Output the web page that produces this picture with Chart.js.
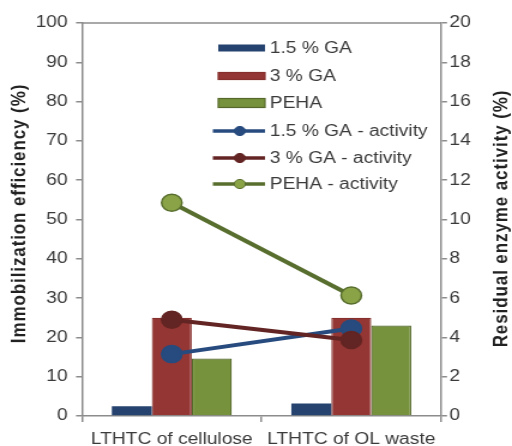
<!DOCTYPE html>
<html>
<head>
<meta charset="utf-8">
<script src="https://cdn.jsdelivr.net/npm/chart.js@4.4.0/dist/chart.umd.min.js"></script>
<style>
  html, body { margin: 0; padding: 0; background: #fff; overflow: hidden; }
  /* the original figure is stretched sideways, so the canvas is too */
  #wrap { width: 427px; height: 446px; transform: scaleX(1.1991); transform-origin: 0 0; }
</style>
</head>
<body>
<div id="wrap"><canvas id="chart"></canvas></div>
<script>
const categories = ['LTHTC of cellulose', 'LTHTC of OL waste'];
const ga15Efficiency = [2.5, 3.2];
const ga3Efficiency = [25, 25];
const pehaEfficiency = [14.6, 23];
const ga15Activity = [3.15, 4.45];
const ga3Activity = [4.9, 3.87];
const pehaActivity = [10.85, 6.13];
const leftTicks = [0, 10, 20, 30, 40, 50, 60, 70, 80, 90, 100];
const rightTicks = [0, 2, 4, 6, 8, 10, 12, 14, 16, 18, 20];

const axisGray = '#8c8c8c';
const textColor = '#3a3a3a';
const fontFamily = '"Liberation Sans", Arial, sans-serif';

const drawTitle = (c, text, x, y) => {
    c.save();
    c.translate(x, y);
    c.rotate(-Math.PI / 2);
    c.font = 'bold 17px ' + fontFamily;
    if ('letterSpacing' in c) c.letterSpacing = '0.9px';
    c.fillStyle = '#222';
    c.textAlign = 'center';
    c.textBaseline = 'middle';
    c.fillText(text, 0, 0);
    c.restore();
};

// legend drawn inside the plot, like the Excel original
const insideLegend = {
    id: 'insideLegend',
    afterDraw(chart) {
        const c = chart.ctx;
        const rows = [48, 76, 103, 131, 158, 184];
        c.save();
        chart.data.datasets.forEach((ds, i) => {
            const y = rows[i];
            if (ds.type === 'bar') {
                const h = ds.label === 'PEHA' ? 9 : 7;
                c.fillStyle = ds.backgroundColor;
                c.fillRect(182, y - h / 2, 39, h);
                if (ds.borderWidth) {
                    c.strokeStyle = ds.borderColor;
                    c.lineWidth = 1.2;
                    c.strokeRect(182, y - h / 2, 39, h);
                }
            } else {
                c.strokeStyle = ds.borderColor;
                c.lineWidth = 3.5;
                c.beginPath();
                c.moveTo(177.5, y);
                c.lineTo(221, y);
                c.stroke();
                c.beginPath();
                c.arc(200, y, 4.6, 0, Math.PI * 2);
                c.fillStyle = ds.pointBackgroundColor;
                c.fill();
                c.lineWidth = 1;
                c.strokeStyle = ds.pointBorderColor;
                c.stroke();
            }
            c.fillStyle = textColor;
            c.font = '16px ' + fontFamily;
            c.textBaseline = 'middle';
            c.textAlign = 'left';
            c.fillText(ds.label, 225, y + 1);
        });

        // top border of the plot area
        const a = chart.chartArea;
        c.strokeStyle = axisGray;
        c.lineWidth = 1.5;
        c.beginPath();
        c.moveTo(a.left, a.top);
        c.lineTo(a.right, a.top);
        c.stroke();
        c.restore();

        const mid = (a.top + a.bottom) / 2;
        drawTitle(c, 'Immobilization efficiency (%)', 16.7, mid - 6);
        drawTitle(c, 'Residual enzyme activity (%)', 418.6, mid - 1);
    }
};

const barDs = (label, data, color, border) => ({
    type: 'bar',
    label: label,
    data: data,
    backgroundColor: color,
    borderColor: border || color,
    borderWidth: border ? 1.2 : 0,
    yAxisID: 'y',
    order: 5,
    categoryPercentage: 0.668,
    barPercentage: 1.0
});

const lineDs = (label, data, color, fill, order) => ({
    type: 'line',
    label: label,
    data: data,
    borderColor: color,
    backgroundColor: color,
    borderWidth: 4,
    pointRadius: 8.5,
    pointHoverRadius: 8.5,
    pointBackgroundColor: fill,
    pointBorderColor: color,
    pointBorderWidth: 1.5,
    yAxisID: 'y2',
    order: order,
    tension: 0
});

new Chart(document.getElementById('chart'), {
    data: {
        labels: categories,
        datasets: [
            barDs('1.5 % GA', ga15Efficiency, '#26436f'),
            barDs('3 % GA', ga3Efficiency, '#943634', '#86302e'),
            barDs('PEHA', pehaEfficiency, '#76923c', '#56692b'),
            lineDs('1.5 % GA - activity', ga15Activity, '#274b7e', '#274b7e', 2),
            lineDs('3 % GA - activity', ga3Activity, '#632523', '#632523', 1),
            lineDs('PEHA - activity', pehaActivity, '#586e2e', '#8aa346', 0)
        ]
    },
    options: {
        responsive: true,
        maintainAspectRatio: false,
        animation: false,
        devicePixelRatio: 1,
        layout: { padding: { top: 23, left: 0, right: 0, bottom: 0 } },
        plugins: {
            legend: { display: false },
            tooltip: { enabled: false }
        },
        scales: {
            x: {
                offset: true,
                grid: {
                    offset: true,
                    drawOnChartArea: false,
                    tickLength: 6,
                    color: axisGray,
                    lineWidth: 1.5
                },
                border: { color: axisGray, width: 1.5 },
                ticks: {
                    color: textColor,
                    font: { family: fontFamily, size: 16 },
                    padding: 8,
                    maxRotation: 0
                },
                afterFit: (scale) => { scale.height = 30; }
            },
            y: {
                position: 'left',
                min: 0,
                max: 100,
                afterBuildTicks: (scale) => { scale.ticks = leftTicks.map(v => ({ value: v })); },
                grid: {
                    drawOnChartArea: false,
                    tickLength: 5,
                    color: axisGray,
                    lineWidth: 1.5
                },
                border: { color: axisGray, width: 1.5 },
                ticks: {
                    color: textColor,
                    font: { family: fontFamily, size: 16 },
                    padding: 7
                },
                afterFit: (scale) => { scale.width = 68.4; }
            },
            y2: {
                position: 'right',
                min: 0,
                max: 20,
                afterBuildTicks: (scale) => { scale.ticks = rightTicks.map(v => ({ value: v })); },
                grid: {
                    drawOnChartArea: false,
                    tickLength: 5,
                    color: axisGray,
                    lineWidth: 1.5
                },
                border: { color: axisGray, width: 1.5 },
                ticks: {
                    color: textColor,
                    font: { family: fontFamily, size: 16 },
                    padding: 2
                },
                afterFit: (scale) => { scale.width = 59.2; }
            }
        }
    },
    plugins: [insideLegend]
});
</script>
</body>
</html>
